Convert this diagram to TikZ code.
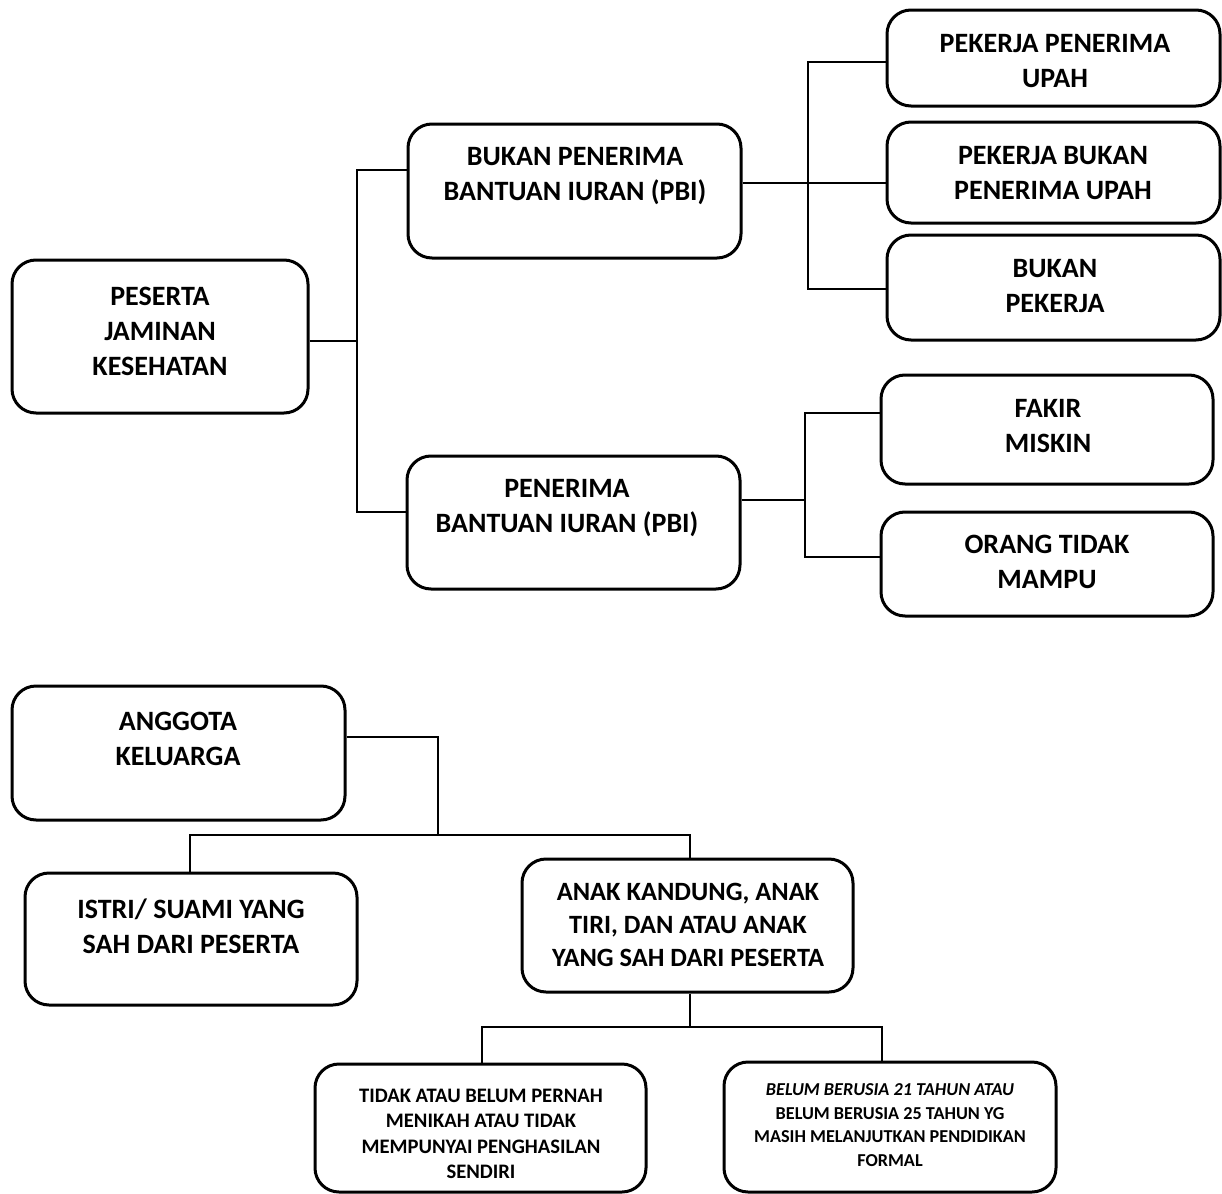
\documentclass[tikz,border=0pt]{standalone}
\usepackage{fontspec}
\setmainfont{Carlito}
\newcommand\BX[5]{%
  \node[box, minimum width={(#4-#2)*0.5pt}, minimum height={(#5-#3)*0.5pt}] (#1) at ({(#2+#4)/2},{(#3+#5)/2}) {};}
\begin{document}
\begin{tikzpicture}[x=0.5pt,y=-0.5pt,
  box/.style={draw, line width=1.5pt, rounded corners=12pt, inner sep=0pt},
  conn/.style={line width=1.3pt},
  big/.style={align=center, inner sep=0pt, font=\bfseries\fontsize{14}{17.5}\selectfont},
  mid/.style={align=center, inner sep=0pt, font=\bfseries\fontsize{13.2}{16.5}\selectfont},
  small/.style={align=center, inner sep=0pt, font=\bfseries\fontsize{10.3}{12.7}\selectfont},
  smallb/.style={align=center, inner sep=0pt, font=\bfseries\fontsize{9.1}{11.8}\selectfont}]
\useasboundingbox (0,0) rectangle (1222,1194);

% boxes
\BX{pes}{12}{260}{308}{413}
\BX{bpbi}{408}{124}{741}{258}
\BX{pbi}{407}{456}{740}{589}
\BX{ppu}{887}{10}{1220}{106}
\BX{pbpu}{887}{122}{1220}{223}
\BX{bp}{887}{235}{1220}{340}
\BX{fm}{881}{375}{1213}{484}
\BX{otm}{881}{512}{1213}{616}
\BX{ak}{12}{686}{345}{820}
\BX{is}{25}{873}{357}{1005}
\BX{an}{522}{859}{853}{992}
\BX{td}{315}{1064}{646}{1192}
\BX{bb}{724}{1062}{1056}{1192}

% texts
\node[big] (pes-t) at (160,331) {PESERTA\\JAMINAN\\KESEHATAN};
\node[big] (bpbi-t) at (575,176) {BUKAN PENERIMA\\BANTUAN IURAN (PBI)};
\node[big] (pbi-t) at (567,508) {PENERIMA\\BANTUAN IURAN (PBI)};
\node[big] (ppu-t) at (1055,61) {PEKERJA PENERIMA\\UPAH};
\node[big] (pbpu-t) at (1053,173) {PEKERJA BUKAN\\PENERIMA UPAH};
\node[big] (bp-t) at (1055,286) {BUKAN\\PEKERJA};
\node[big] (fm-t) at (1048,426) {FAKIR\\MISKIN};
\node[big] (otm-t) at (1047,562) {ORANG TIDAK\\MAMPU};
\node[big] (ak-t) at (178,739) {ANGGOTA\\KELUARGA};
\node[big] (is-t) at (191,926) {ISTRI/ SUAMI YANG\\SAH DARI PESERTA};
\node[mid] (an-t) at (688,925) {ANAK KANDUNG, ANAK\\TIRI, DAN ATAU ANAK\\YANG SAH DARI PESERTA};
\node[small] (td-t) at (481,1134) {TIDAK ATAU BELUM PERNAH\\MENIKAH ATAU TIDAK\\MEMPUNYAI PENGHASILAN\\SENDIRI};
\node[smallb] (bb-t) at (890,1125) {\itshape BELUM BERUSIA 21 TAHUN ATAU\\BELUM BERUSIA 25 TAHUN YG\\MASIH MELANJUTKAN PENDIDIKAN\\FORMAL};

% junction coordinates
\coordinate (j1) at (357,341);
\coordinate (j1a) at (357,170);
\coordinate (j1b) at (357,512);
\coordinate (j2) at (808,183);
\coordinate (j2a) at (808,62);
\coordinate (j2c) at (808,289);
\coordinate (j3) at (805,500);
\coordinate (j3a) at (805,413);
\coordinate (j3b) at (805,557);
\coordinate (j4) at (438,737);
\coordinate (j4b) at (438,835);
\coordinate (j4l) at (190,835);
\coordinate (j4r) at (690,835);
\coordinate (j5) at (690,1027);
\coordinate (j5l) at (482,1027);
\coordinate (j5r) at (882,1027);

% connectors
\draw[conn] (pes.east |- j1) -- (j1);
\draw[conn] (bpbi.west |- j1a) -- (j1a) -- (j1b) -- (pbi.west |- j1b);

\draw[conn] (bpbi.east |- j2) -- (pbpu.west |- j2);
\draw[conn] (ppu.west |- j2a) -- (j2a) -- (j2c) -- (bp.west |- j2c);

\draw[conn] (pbi.east |- j3) -- (j3);
\draw[conn] (fm.west |- j3a) -- (j3a) -- (j3b) -- (otm.west |- j3b);

\draw[conn] (ak.east |- j4) -- (j4) -- (j4b);
\draw[conn] (is.north -| j4l) -- (j4l) -- (j4r) -- (an.north -| j4r);

\draw[conn] (an.south -| j5) -- (j5);
\draw[conn] (td.north -| j5l) -- (j5l) -- (j5r) -- (bb.north -| j5r);
\end{tikzpicture}
\end{document}
